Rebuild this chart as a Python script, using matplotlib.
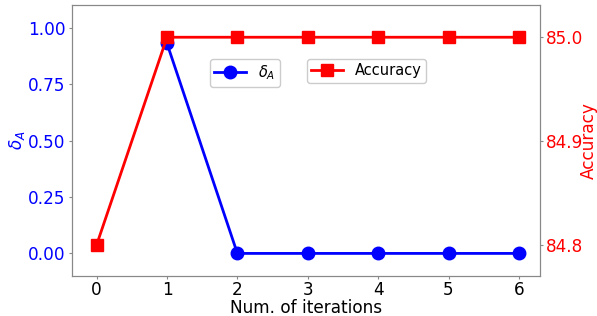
import matplotlib
matplotlib.use("Agg")
import matplotlib.pyplot as plt

iters_delta = [1, 2, 3, 4, 5, 6]
delta_a = [0.93, 0.0, 0.0, 0.0, 0.0, 0.0]
iters_acc = [0, 1, 2, 3, 4, 5, 6]
accuracy = [84.8, 85.0, 85.0, 85.0, 85.0, 85.0, 85.0]
x_ticks = [0, 1, 2, 3, 4, 5, 6]
left_ticks = [0.00, 0.25, 0.50, 0.75, 1.00]
right_ticks = [84.8, 84.9, 85.0]

fig = plt.figure(figsize=(5.97, 3.16), dpi=100)
ax = fig.add_axes([0.1206, 0.1266, 0.7839, 0.8574])
ax2 = ax.twinx()

l1, = ax.plot(iters_delta, delta_a, color='blue', marker='o', markersize=9, linewidth=2, label=r'$\delta_A$')
l2, = ax2.plot(iters_acc, accuracy, color='red', marker='s', markersize=9, linewidth=2, label='Accuracy')

ax.set_ylim(-0.1, 1.1)
ax2.set_ylim(84.77, 85.031)
ax.set_xlim(-0.35, 6.3)
ax.set_xticks(x_ticks)
ax.set_yticks(left_ticks)
ax.set_yticklabels([f"{v:.2f}" for v in left_ticks])
ax2.set_yticks(right_ticks)
ax2.set_yticklabels([f"{v:.1f}" for v in right_ticks])

fs = 12.2
ax.tick_params(axis='x', labelsize=fs, colors='black', length=2.5, pad=1, color='#888888')
ax.tick_params(axis='y', labelsize=fs, colors='blue', length=2.5, pad=2, color='#888888')
ax2.tick_params(axis='y', labelsize=fs, colors='red', length=2.5, pad=1.5, color='#888888')
ax.set_xlabel('Num. of iterations', fontsize=fs, labelpad=0, color='black')
ax.set_ylabel(r'$\delta_A$', fontsize=fs, color='blue', labelpad=1)
ax2.set_ylabel('Accuracy', fontsize=fs, color='red', labelpad=-2.5)
for lbl in ax.get_xticklabels():
    lbl.set_color('black')

for a in (ax, ax2):
    for s in a.spines.values():
        s.set_color('#888888')

ax.legend(handles=[l1], loc='upper left', bbox_to_anchor=(0.2949, 0.8007), borderaxespad=0,
          borderpad=0.3, fontsize=10.5, framealpha=1, handlelength=2.2)
ax2.legend(handles=[l2], loc='upper left', bbox_to_anchor=(0.502, 0.8007), borderaxespad=0,
           borderpad=0.3, fontsize=10.5, framealpha=1, handlelength=2.2)

fig.savefig('out.png', dpi=100)
